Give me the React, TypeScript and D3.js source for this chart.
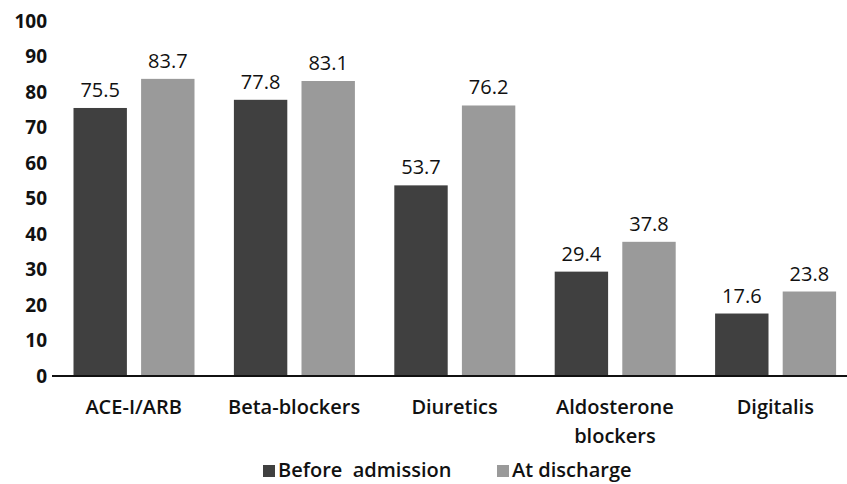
import React from "react";
import * as d3 from "d3";

const categories = ["ACE-I/ARB", "Beta-blockers", "Diuretics", "Aldosterone blockers", "Digitalis"];
const seriesNames = ["Before  admission", "At discharge"];
const beforeAdmission = [75.5, 77.8, 53.7, 29.4, 17.6];
const atDischarge = [83.7, 83.1, 76.2, 37.8, 23.8];
const yTicks = [0, 10, 20, 30, 40, 50, 60, 70, 80, 90, 100];

const W = 847;
const H = 484;
const COLORS = ["#404040", "#9a9a9a"];
const FONT = "'Open Sans', sans-serif";

export default function App() {
  const y = d3.scaleLinear().domain([0, 100]).range([376, 21]);
  const x = d3.scaleBand<string>().domain(categories).range([53.5, 855.5]);
  const inner = d3.scaleBand<number>().domain([0, 1]).range([20, 141]).paddingInner(0.21);
  const series = [beforeAdmission, atDischarge];

  return (
    <svg width={W} height={H} style={{ position: "absolute", left: 0, top: 0, background: "#fff" }} fontFamily={FONT}>
      {yTicks.map((t) => (
        <text key={t} x={47} y={y(t)} dy="0.36em" textAnchor="end" fontSize={19} fontWeight={700} fill="#111">
          {t}
        </text>
      ))}
      {categories.map((c, i) => (
        <g key={c} transform={`translate(${x(c)},0)`}>
          {series.map((s, j) => (
            <g key={j}>
              <rect x={inner(j)} y={y(s[i])} width={inner.bandwidth()} height={y(0) - y(s[i])} fill={COLORS[j]} />
              <text x={(inner(j) as number) + inner.bandwidth() / 2} y={y(s[i]) - 11} textAnchor="middle" fontSize={20} fontWeight={500} fill="#111">
                {s[i].toFixed(1)}
              </text>
            </g>
          ))}
        </g>
      ))}
      <line x1={52} x2={W} y1={y(0)} y2={y(0)} stroke="#111" strokeWidth={2} />
      {categories.map((c) => {
        const words = c === "Aldosterone blockers" ? ["Aldosterone", "blockers"] : [c];
        const cx = (x(c) as number) + x.bandwidth() / 2;
        return (
          <text key={c} x={cx} y={414} textAnchor="middle" fontSize={20} fontWeight={600} fill="#111">
            {words.map((w, k) => (
              <tspan key={k} x={cx} dy={k === 0 ? 0 : 29}>{w}</tspan>
            ))}
          </text>
        );
      })}
      {[263, 497].map((lx, j) => (
        <g key={j}>
          <rect x={lx} y={465} width={12} height={12} fill={COLORS[j]} />
          <text x={lx + 15} y={477} fontSize={20} fontWeight={600} fill="#111" style={{ whiteSpace: "pre" }}>
            {seriesNames[j]}
          </text>
        </g>
      ))}
    </svg>
  );
}
